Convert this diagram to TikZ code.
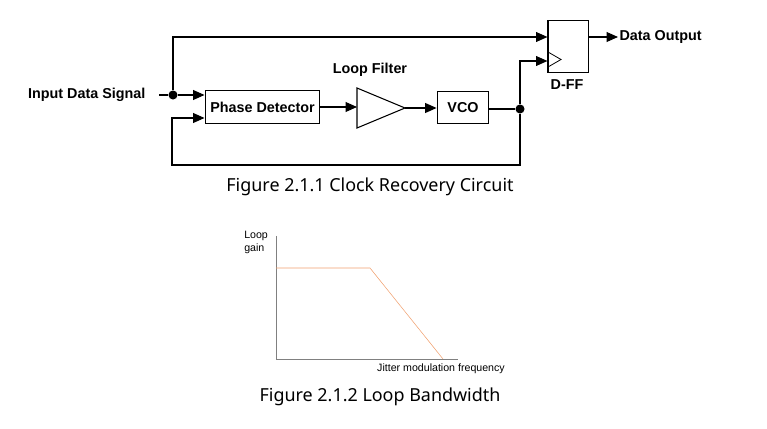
\documentclass[tikz,border=0pt]{standalone}
\usepackage{fontspec}
\setmainfont{Liberation Sans}
\newfontfamily\capfont{Noto Sans}
\usetikzlibrary{arrows.meta}
\definecolor{curve}{RGB}{240,160,110}
\tikzset{
  lbl/.style={font=\bfseries\fontsize{10.8}{13}\selectfont},
  blk/.style={draw,thick,minimum height=0.86cm,lbl},
  wire/.style={thick},
  arr/.style={thick,-{Triangle[length=3mm,width=2.6mm]}},
  dot/.style={circle,fill,inner sep=0pt,minimum size=2.4mm},
  figcap/.style={font=\capfont\fontsize{13.5}{16}\selectfont}
}
\begin{document}
\begin{tikzpicture}[x=0.02646cm,y=-0.02646cm]
    \useasboundingbox (0,0) rectangle (767,429);
    % clock recovery loop
    \node[anchor=east,lbl] (in) at (150,95) {Input Data Signal};
    \node[dot] (j1) at (173,95) {};
    \node[blk,minimum width=3.04cm] (pd) at (262.5,107) {Phase Detector};
    \node[blk,minimum width=1.37cm] (vco) at (463,107.5) {VCO};
    \node[dot] (j2) at (520,109) {};
    \node[draw,thick,minimum width=1.06cm,minimum height=1.4cm] (ff) at (568,46.5) {};
    \node[lbl] (fflab) at (567,85) {D-FF};
    \node[lbl] (lf) at (370,70) {Loop Filter};
    \coordinate (t1) at (357,88);
    \coordinate (t2) at (357,128);
    \coordinate (t3) at (405,108);
    \draw[thick,fill=white] (t1) -- (t2) -- (t3) -- cycle;
    \draw[semithick] (548,52) -- (561,59.5) -- (548,67);
    \node[anchor=west,lbl,inner xsep=1pt] (out) at (618,37) {Data Output};
    %
    \draw[wire] (in.east) ++(9,0) -- (j1);
    \draw[arr] (j1) -- (pd.west |- j1);
    \draw[arr] (j1) |- (ff.west |- 0,37);
    \draw[arr] (pd.east) -- (t1 |- pd.east);
    \draw[arr] (t3) -- (vco.west |- t3);
    \draw[wire] (vco.east |- j2) -- (j2);
    \draw[arr] (j2) |- (ff.west |- 0,61);
    \draw[arr] (j2) -- (520,165) -- (172,165) |- (pd.west |- 0,118);
    \draw[arr] (ff.east |- out) -- (out.west);
    \node[figcap] (c1) at (370,187) {Figure 2.1.1 Clock Recovery Circuit};
    % loop bandwidth
    \draw[gray] (276,236) -- (276,359) -- (458,359);
    \draw[curve] (276,268) -- (370,268) -- (443,359);
    \node[anchor=north west,font=\footnotesize,align=left,inner sep=0pt] (gain) at (244,231) {Loop\\gain};
    \node[font=\footnotesize] (xlab) at (441,369) {Jitter modulation frequency};
    \node[figcap] (c2) at (380,397) {Figure 2.1.2 Loop Bandwidth};
\end{tikzpicture}
\end{document}
